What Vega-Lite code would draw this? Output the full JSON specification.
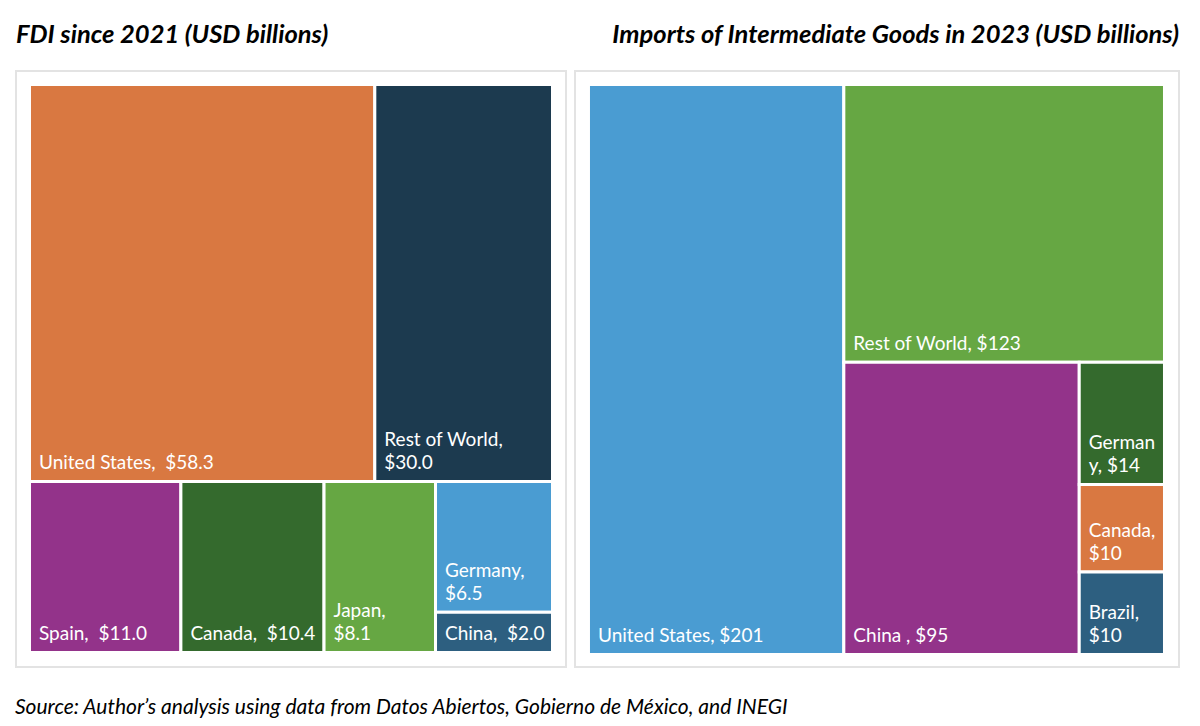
{
  "$schema": "https://vega.github.io/schema/vega-lite/v6.json",
  "padding": {"left": 15, "top": 21, "right": 0, "bottom": 0},
  "background": "white",
  "config": {"view": {"stroke": "#e3e3e3", "strokeWidth": 2}, "font": "Lato"},
  "title": {"text": "Source: Author’s analysis using data from Datos Abiertos, Gobierno de México, and INEGI", "orient": "bottom", "anchor": "start", "font": "Lato", "fontSize": 21, "fontStyle": "italic", "fontWeight": "normal", "color": "#000000", "baseline": "alphabetic", "offset": 46},
  "data": {"values": [
    {"panel": "L", "o": 1, "l1": "A", "l2": "top", "l3": "US", "name": "United States", "value": 58.3, "line1": "", "line2": "United States,\u00a0 $58.3"},
    {"panel": "L", "o": 2, "l1": "A", "l2": "top", "l3": "RoW", "name": "Rest of World", "value": 30.0, "line1": "Rest of World,", "line2": "$30.0"},
    {"panel": "L", "o": 3, "l1": "A", "l2": "bottom", "l3": "Spain", "name": "Spain", "value": 11.0, "line1": "", "line2": "Spain,\u00a0 $11.0"},
    {"panel": "L", "o": 4, "l1": "A", "l2": "bottom", "l3": "Canada", "name": "Canada", "value": 10.4, "line1": "", "line2": "Canada,\u00a0 $10.4"},
    {"panel": "L", "o": 5, "l1": "A", "l2": "bottom", "l3": "Japan", "name": "Japan", "value": 8.1, "line1": "Japan,", "line2": "$8.1"},
    {"panel": "L", "o": 6, "l1": "A", "l2": "bottom", "l3": "GC", "name": "Germany", "value": 6.5, "line1": "Germany,", "line2": "$6.5"},
    {"panel": "L", "o": 7, "l1": "A", "l2": "bottom", "l3": "GC", "name": "China", "value": 2.0, "line1": "", "line2": "China,\u00a0 $2.0"},
    {"panel": "R", "o": 1, "l1": "US", "l2": "US", "l3": "US", "name": "United States", "value": 201, "line1": "", "line2": "United States, $201"},
    {"panel": "R", "o": 2, "l1": "Rest", "l2": "RoW", "l3": "RoW", "name": "Rest of World", "value": 123, "line1": "", "line2": "Rest of World, $123"},
    {"panel": "R", "o": 3, "l1": "Rest", "l2": "Bottom", "l3": "China", "name": "China", "value": 95, "line1": "", "line2": "China , $95"},
    {"panel": "R", "o": 4, "l1": "Rest", "l2": "Bottom", "l3": "Small", "name": "Germany", "value": 14.4, "line1": "German", "line2": "y, $14"},
    {"panel": "R", "o": 5, "l1": "Rest", "l2": "Bottom", "l3": "Small", "name": "Canada", "value": 10.3, "line1": "Canada,", "line2": "$10"},
    {"panel": "R", "o": 6, "l1": "Rest", "l2": "Bottom", "l3": "Small", "name": "Brazil", "value": 9.7, "line1": "Brazil,", "line2": "$10"}
  ]},
  "transform": [
    {"stack": "value", "groupby": ["panel"], "sort": [{"field": "o", "order": "ascending"}], "as": ["c0", "c1"]},
    {"joinaggregate": [{"op": "sum", "field": "value", "as": "T"}], "groupby": ["panel"]},
    {"joinaggregate": [{"op": "sum", "field": "value", "as": "S1"}, {"op": "min", "field": "c0", "as": "p1"}], "groupby": ["panel", "l1"]},
    {"joinaggregate": [{"op": "sum", "field": "value", "as": "S2"}, {"op": "min", "field": "c0", "as": "p2"}], "groupby": ["panel", "l2"]},
    {"joinaggregate": [{"op": "sum", "field": "value", "as": "S3"}, {"op": "min", "field": "c0", "as": "p3"}], "groupby": ["panel", "l3"]},
    {"calculate": "datum.p1 / datum.T", "as": "xa"},
    {"calculate": "(datum.p1 + datum.S1) / datum.T", "as": "xb"},
    {"calculate": "(datum.p2 - datum.p1) / datum.S1", "as": "ya"},
    {"calculate": "(datum.p2 - datum.p1 + datum.S2) / datum.S1", "as": "yb"},
    {"calculate": "datum.xa + (datum.xb - datum.xa) * (datum.p3 - datum.p2) / datum.S2", "as": "X0"},
    {"calculate": "datum.xa + (datum.xb - datum.xa) * (datum.p3 - datum.p2 + datum.S3) / datum.S2", "as": "X1"},
    {"calculate": "datum.ya + (datum.yb - datum.ya) * (datum.c0 - datum.p3) / datum.S3", "as": "Y0"},
    {"calculate": "datum.ya + (datum.yb - datum.ya) * (datum.c1 - datum.p3) / datum.S3", "as": "Y1"}
  ],
  "spacing": 7,
  "resolve": {"scale": {"x": "independent", "y": "independent", "color": "independent"}},
  "hconcat": [
    {
      "width": 550,
      "height": 596,
      "title": {"text": "FDI since 2021 (USD billions)", "anchor": "start", "font": "Lato", "fontSize": 25.5, "fontWeight": "bold", "fontStyle": "italic", "color": "#000000", "baseline": "alphabetic", "offset": 3},
      "transform": [{"filter": {"field": "panel", "equal": "L"}}],
      "encoding": {
        "x": {"field": "X0", "type": "quantitative", "scale": {"domain": [-0.0258, 1.0258], "nice": false, "zero": false}, "axis": null}
      },
      "layer": [
        {
          "mark": {"type": "rect", "stroke": "white", "strokeWidth": 3},
          "encoding": {
            "x2": {"field": "X1"},
            "y": {"field": "Y0", "type": "quantitative", "scale": {"domain": [-0.0238, 1.0255], "nice": false, "zero": false, "reverse": true}, "axis": null},
            "y2": {"field": "Y1"},
            "color": {"field": "name", "type": "nominal", "legend": null, "scale": {"domain": ["United States", "Rest of World", "Spain", "Canada", "Japan", "Germany", "China"], "range": ["#D97841", "#1C3A4F", "#93338A", "#346A2D", "#66A743", "#4A9CD2", "#2D5F80"]}}
          }
        },
        {
          "mark": {"type": "text", "align": "left", "baseline": "alphabetic", "dx": 9.5, "dy": -12.5, "font": "Lato", "fontSize": 19, "color": "white"},
          "encoding": {
            "y": {"field": "Y1", "type": "quantitative", "scale": {"domain": [-0.0238, 1.0255], "nice": false, "zero": false, "reverse": true}, "axis": null},
            "text": {"field": "line2", "type": "nominal"}
          }
        },
        {
          "mark": {"type": "text", "align": "left", "baseline": "alphabetic", "dx": 9.5, "dy": -35.5, "font": "Lato", "fontSize": 19, "color": "white"},
          "encoding": {
            "y": {"field": "Y1", "type": "quantitative", "scale": {"domain": [-0.0238, 1.0255], "nice": false, "zero": false, "reverse": true}, "axis": null},
            "text": {"field": "line1", "type": "nominal"}
          }
        }
      ]
    },
    {
      "width": 604,
      "height": 596,
      "title": {"text": "Imports of Intermediate Goods in 2023 (USD billions)", "anchor": "end", "font": "Lato", "fontSize": 25.5, "fontWeight": "bold", "fontStyle": "italic", "color": "#000000", "baseline": "alphabetic", "offset": 3},
      "transform": [{"filter": {"field": "panel", "equal": "R"}}],
      "encoding": {
        "x": {"field": "X0", "type": "quantitative", "scale": {"domain": [-0.0234, 1.0252], "nice": false, "zero": false}, "axis": null}
      },
      "layer": [
        {
          "mark": {"type": "rect", "stroke": "white", "strokeWidth": 3},
          "encoding": {
            "x2": {"field": "X1"},
            "y": {"field": "Y0", "type": "quantitative", "scale": {"domain": [-0.0237, 1.0219], "nice": false, "zero": false, "reverse": true}, "axis": null},
            "y2": {"field": "Y1"},
            "color": {"field": "name", "type": "nominal", "legend": null, "scale": {"domain": ["United States", "Rest of World", "China", "Germany", "Canada", "Brazil"], "range": ["#4A9CD2", "#66A743", "#93338A", "#346A2D", "#D97841", "#2D5F80"]}}
          }
        },
        {
          "mark": {"type": "text", "align": "left", "baseline": "alphabetic", "dx": 9.5, "dy": -12.5, "font": "Lato", "fontSize": 19, "color": "white"},
          "encoding": {
            "y": {"field": "Y1", "type": "quantitative", "scale": {"domain": [-0.0237, 1.0219], "nice": false, "zero": false, "reverse": true}, "axis": null},
            "text": {"field": "line2", "type": "nominal"}
          }
        },
        {
          "mark": {"type": "text", "align": "left", "baseline": "alphabetic", "dx": 9.5, "dy": -35.5, "font": "Lato", "fontSize": 19, "color": "white"},
          "encoding": {
            "y": {"field": "Y1", "type": "quantitative", "scale": {"domain": [-0.0237, 1.0219], "nice": false, "zero": false, "reverse": true}, "axis": null},
            "text": {"field": "line1", "type": "nominal"}
          }
        }
      ]
    }
  ]
}
